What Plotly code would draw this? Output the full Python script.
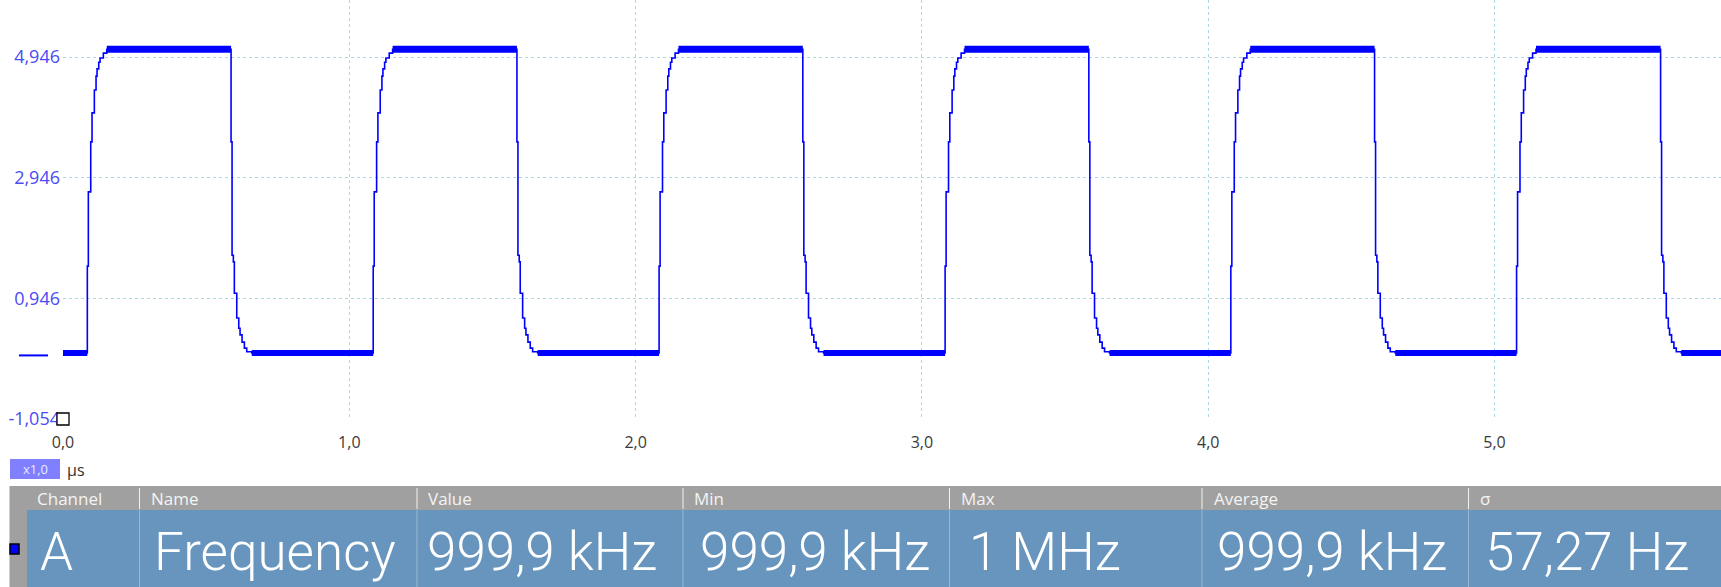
import plotly.graph_objects as go

# ---------------- data ----------------
x_tick_vals = [0, 1, 2, 3, 4, 5]
x_tick_text = ["0,0", "1,0", "2,0", "3,0", "4,0", "5,0"]
y_tick_vals = [-1.054, 0.946, 2.946, 4.946]
y_tick_text = ["-1,054", "0,946", "2,946", "4,946"]

# edge times of the square wave (µs)
rise_times_us = [0.085, 1.0835, 2.082, 3.081, 4.079, 5.077]
fall_times_us = [0.587, 1.5855, 2.584, 3.583, 4.581, 5.580]

# sampled staircase after each edge: offset (µs) and voltage (V)
rise_step_dt = [0.0, 0.0035, 0.0119, 0.0164, 0.0245, 0.0304, 0.0339, 0.0398, 0.0444, 0.0559, 0.0678]
rise_step_v = [1.48, 2.71, 3.54, 4.02, 4.40, 4.63, 4.75, 4.86, 4.93, 5.01, 5.075]
fall_step_dt = [0.0, 0.0035, 0.0080, 0.0115, 0.0199, 0.0269, 0.0314, 0.0384, 0.0465, 0.0548, 0.0723]
fall_step_v = [3.54, 1.66, 1.55, 1.03, 0.62, 0.45, 0.34, 0.22, 0.12, 0.06, 0.04]

high_level_v = 5.075
low_level_v = 0.04
t_start_us = 0.0
t_end_us = 5.791
y_min_v = -1.054
y_max_v = 5.891

table_headers = ["Channel", "Name", "Value", "Min", "Max", "Average", "σ"]
table_values = ["A", "Frequency", "999,9 kHz", "999,9 kHz", "1 MHz", "999,9 kHz", "57,27 Hz"]

# ---------------- layout constants (pixels) ----------------
W, H = 1721, 587
PL, PR, PT, PB = 63, 0, 0, 168
PW = W - PL - PR
PH = H - PT - PB


def px(xp):
    return (xp - PL) / PW


def py(yp):
    return (H - PB - yp) / PH


# ---------------- build trace ----------------
tx, ty = [t_start_us], [low_level_v]
for r, f in zip(rise_times_us, fall_times_us):
    for dt, v in zip(rise_step_dt, rise_step_v):
        tx.append(r + dt)
        ty.append(v)
    for dt, v in zip(fall_step_dt, fall_step_v):
        tx.append(f + dt)
        ty.append(v)
tx.append(t_end_us)
ty.append(low_level_v)

# plateau bands (noisy two-level toggling appears as a thick band)
hx, hy, lx, ly = [], [], [], []
prev = t_start_us
for r, f in zip(rise_times_us, fall_times_us):
    lx += [prev, r, None]
    ly += [low_level_v, low_level_v, None]
    hx += [r + rise_step_dt[-1], f, None]
    hy += [high_level_v, high_level_v, None]
    prev = f + fall_step_dt[-1]
lx += [prev, t_end_us]
ly += [low_level_v, low_level_v]

BLUE = "#0000ff"
fig = go.Figure()
fig.add_trace(go.Scatter(x=hx, y=hy, mode="lines", line=dict(color=BLUE, width=7), hoverinfo="skip"))
fig.add_trace(go.Scatter(x=lx, y=ly, mode="lines", line=dict(color=BLUE, width=6), hoverinfo="skip"))
fig.add_trace(go.Scatter(x=tx, y=ty, mode="lines", line=dict(color=BLUE, width=1.6, shape="hv"), hoverinfo="skip"))

GRID = "#a9d8e6"
fig.update_layout(
    width=W, height=H,
    margin=dict(l=PL, r=PR, t=PT, b=PB),
    paper_bgcolor="white", plot_bgcolor="white",
    showlegend=False,
    font=dict(family="Open Sans, Noto Sans, sans-serif"),
    xaxis=dict(range=[t_start_us, t_end_us], tickvals=x_tick_vals, ticktext=x_tick_text,
               showgrid=True, gridcolor=GRID, griddash="3px,3px", gridwidth=1,
               zeroline=False, showline=False, ticks="", automargin=False,
               tickfont=dict(size=16, color="#3a3a3a"), ticklabelstandoff=12),
    yaxis=dict(range=[y_min_v, y_max_v], tickvals=y_tick_vals, ticktext=y_tick_text,
               showgrid=True, gridcolor=GRID, griddash="3px,3px", gridwidth=1,
               zeroline=False, showline=False, ticks="", automargin=False,
               tickfont=dict(size=18, color="#4b4bf5"), ticklabelstandoff=2),
)

shapes = []
annotations = []

# channel zero marker at the left
shapes.append(dict(type="line", xref="paper", yref="y", x0=px(19), x1=px(48), y0=0, y1=0,
                   line=dict(color=BLUE, width=2)))
# small square at the origin corner
shapes.append(dict(type="rect", xref="paper", yref="paper", xsizemode="pixel", ysizemode="pixel",
                   xanchor=0, yanchor=0, x0=-6, x1=6, y0=-6, y1=6,
                   fillcolor="white", line=dict(color="black", width=1.3)))
# x1,0 badge
shapes.append(dict(type="rect", xref="paper", yref="paper", x0=px(10), x1=px(60), y0=py(479), y1=py(459),
                   fillcolor="#8080ff", line=dict(width=0)))
annotations.append(dict(text="x1,0", xref="paper", yref="paper", x=px(35), y=py(469), showarrow=False,
                        xanchor="center", yanchor="middle", font=dict(size=13, color="#e8e8ff")))
annotations.append(dict(text="µs", xref="paper", yref="paper", x=px(65), y=py(470), showarrow=False,
                        xanchor="left", yanchor="middle", font=dict(size=16, color="#303030")))

# table
col_edges = [27, 139.5, 417, 683, 949.5, 1202, 1468.5, W]
shapes.append(dict(type="rect", xref="paper", yref="paper", x0=px(9.5), x1=px(W), y0=py(H), y1=py(486),
                   fillcolor="#a0a0a0", line=dict(width=0)))
shapes.append(dict(type="rect", xref="paper", yref="paper", x0=px(col_edges[0]), x1=px(W), y0=py(H), y1=py(510),
                   fillcolor="#6795bd", line=dict(width=0)))
for e in col_edges[1:-1]:
    shapes.append(dict(type="line", xref="paper", yref="paper", x0=px(e), x1=px(e), y0=py(488), y1=py(509),
                       line=dict(color="#f2f2f2", width=1)))
    shapes.append(dict(type="line", xref="paper", yref="paper", x0=px(e), x1=px(e), y0=py(510), y1=py(H),
                       line=dict(color="#9ab6d2", width=1)))
# channel colour marker
shapes.append(dict(type="rect", xref="paper", yref="paper", x0=px(10), x1=px(19), y0=py(554), y1=py(544),
                   fillcolor=BLUE, line=dict(color="black", width=1.5)))

head_x = [35, 149, 426, 692, 959, 1212, 1478]
val_x = [38, 152, 425, 698, 967, 1215, 1483]
for hx_, t in zip(head_x, table_headers):
    annotations.append(dict(text=t, xref="paper", yref="paper", x=px(hx_), y=py(498), showarrow=False,
                            xanchor="left", yanchor="middle",
                            font=dict(size=17, color="#f4f4f4", family="Open Sans, sans-serif")))
for vx_, t in zip(val_x, table_values):
    annotations.append(dict(text=t, xref="paper", yref="paper", x=px(vx_), y=py(552), showarrow=False,
                            xanchor="left", yanchor="middle",
                            font=dict(size=53, color="white", family="Roboto, sans-serif", weight=300)))

fig.update_layout(shapes=shapes, annotations=annotations)
fig.write_html("out.html", config={"displayModeBar": False},
               post_script="document.body.style.margin='0';document.body.style.overflow='hidden';")
